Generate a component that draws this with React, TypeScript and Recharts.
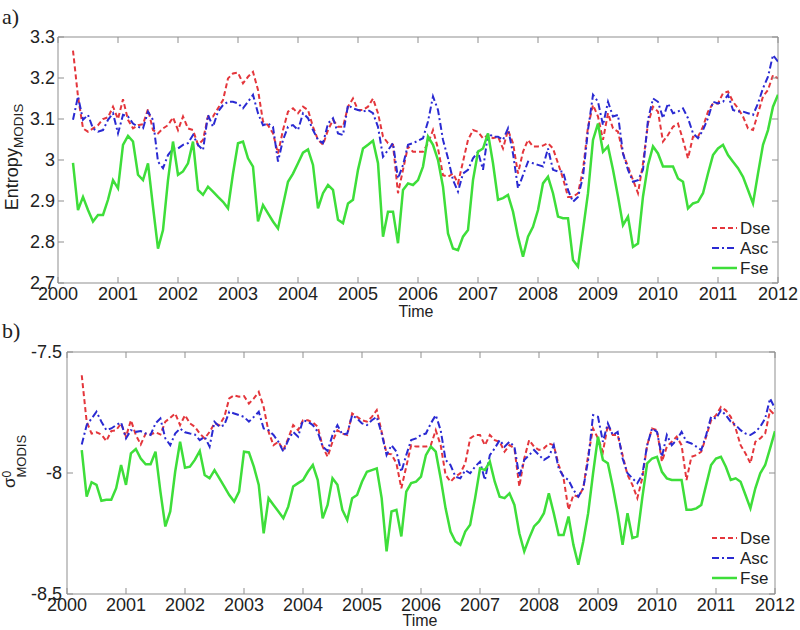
import { Legend, Line, LineChart, ReferenceLine, XAxis, YAxis } from "recharts";

// monthly series, first sample April 2000 (month index 3), last January 2012
const FIRST_MONTH = 3;
const yearTicks = [2000, 2001, 2002, 2003, 2004, 2005, 2006, 2007, 2008, 2009, 2010, 2011, 2012];
const entropyTicks = [2.7, 2.8, 2.9, 3, 3.1, 3.2, 3.3];
const sigmaTicks = [-8.5, -8, -7.5];

const entropyDse = [
  3.267, 3.155, 3.077, 3.069, 3.077, 3.085, 3.1, 3.104, 3.13, 3.1, 3.148, 3.098, 3.077, 3.085, 3.087, 3.124, 3.073,
  3.065, 3.077, 3.085, 3.104, 3.073, 3.106, 3.077, 3.073, 3.037, 3.049, 3.106, 3.106, 3.126, 3.146, 3.199, 3.211, 3.213,
  3.187, 3.203, 3.215, 3.171, 3.094, 3.085, 3.065, 3.016, 3.073, 3.118, 3.126, 3.114, 3.13, 3.122, 3.081, 3.049, 3.037,
  3.073, 3.098, 3.081, 3.081, 3.13, 3.15, 3.122, 3.122, 3.13, 3.15, 3.114, 3.057, 3.041, 3.037, 2.919, 2.976, 3.033,
  3.02, 3.02,
  3.02, 3.041, 3.073, 3.028, 2.963, 2.959, 2.967, 2.943, 2.996, 3.049, 3.073, 3.069, 3.053, 3.061, 3.053, 3.057, 3.028,
  3.073, 3.041, 2.967, 3.02, 3.049, 3.033, 3.033, 3.035, 3.041, 3.028, 2.992, 2.955, 2.91, 2.91, 2.919, 2.976, 3.081,
  3.134, 3.106,
  3.049, 3.114, 3.077, 3.069, 3.016, 2.984, 2.951, 2.919, 2.992, 3.089, 3.13, 3.118, 3.045, 3.061, 3.081, 3.089, 3.049,
  3.004, 3.057, 3.057, 3.081, 3.118, 3.138, 3.138, 3.163, 3.167, 3.142, 3.126, 3.106, 3.077, 3.073, 3.114, 3.155, 3.171,
  3.207, 3.199,
];
const entropyAsc = [
  3.098, 3.155, 3.098, 3.11, 3.077, 3.069, 3.073, 3.098, 3.114, 3.065, 3.11, 3.106, 3.089, 3.081, 3.077, 3.118, 3.098,
  2.996, 2.98, 3.012, 3.028, 3.028, 3.037, 3.041, 3.061, 3.037, 3.024, 3.11, 3.081, 3.118, 3.134, 3.142, 3.142, 3.138,
  3.126, 3.142, 3.159, 3.114, 3.085, 3.089, 3.081, 2.996, 3.049, 3.081, 3.085, 3.073, 3.114, 3.102, 3.073, 3.049, 3.041,
  3.089, 3.102, 3.065, 3.061, 3.134, 3.126, 3.122, 3.118, 3.122, 3.114, 3.081, 3.008, 3.024, 3.041, 2.955, 2.988, 3.037,
  3.041, 3.047,
  3.053, 3.094, 3.155, 3.122, 3.049, 3.004, 2.951, 2.923, 2.967, 2.976, 3.004, 3.02, 2.976, 3.065, 3.057, 3.057, 3.049,
  3.077, 3.016, 2.931, 2.963, 2.996, 2.992, 2.988, 2.984, 3.028, 2.976, 2.972, 2.972, 2.927, 2.898, 2.91, 2.959, 3.073,
  3.159, 3.142,
  3.085, 3.142, 3.106, 3.11, 3.016, 2.976, 2.947, 2.951, 2.976, 3.098, 3.15, 3.142, 3.102, 3.138, 3.114, 3.118, 3.126,
  3.102, 3.065, 3.053, 3.073, 3.102, 3.142, 3.138, 3.142, 3.159, 3.122, 3.118, 3.118, 3.114, 3.11, 3.138, 3.175, 3.203,
  3.256, 3.24,
];
const entropyFse = [
  2.993, 2.878, 2.91, 2.878, 2.85, 2.866, 2.866, 2.903, 2.951, 2.931, 3.037, 3.059, 3.045, 2.964, 2.951, 2.992, 2.886,
  2.784, 2.829, 2.951, 3.045, 2.964, 2.972, 2.992, 3.045, 2.927, 2.915, 2.935, 2.923, 2.91, 2.898, 2.882, 2.967, 3.041,
  3.045, 3.004, 2.984, 2.85, 2.89, 2.87, 2.85, 2.833, 2.89, 2.947, 2.967, 2.992, 3.018, 3.026, 2.988, 2.882, 2.919,
  2.939, 2.927, 2.854, 2.846, 2.894, 2.903, 2.976, 3.028, 3.037, 3.047, 2.992, 2.813, 2.874, 2.874, 2.797, 2.927, 2.943,
  2.939, 2.951,
  2.984, 3.057, 3.037, 3.0, 2.935, 2.821, 2.784, 2.78, 2.813, 2.829, 2.951, 3.02, 3.028, 3.065, 2.992, 2.903, 2.907,
  2.915, 2.874, 2.813, 2.764, 2.813, 2.837, 2.878, 2.943, 2.959, 2.919, 2.862, 2.858, 2.858, 2.756, 2.74, 2.829, 2.919,
  3.049, 3.089,
  3.02, 3.033, 2.976, 2.911, 2.841, 2.862, 2.788, 2.796, 2.911, 2.988, 3.033, 3.016, 2.984, 2.984, 2.984, 2.955, 2.947,
  2.882, 2.894, 2.898, 2.919, 2.967, 3.012, 3.028, 3.037, 3.012, 2.996, 2.98, 2.959, 2.927, 2.894, 2.967, 3.037, 3.073,
  3.13, 3.159,
];

const sigmaDse = [
  -7.596, -7.788, -7.837, -7.832, -7.841, -7.868, -7.827, -7.823, -7.795, -7.85, -7.782, -7.843, -7.882, -7.837, -7.841,
  -7.832, -7.841, -7.788, -7.772, -7.754, -7.802, -7.761, -7.795, -7.809, -7.837, -7.857, -7.83, -7.795, -7.802, -7.768,
  -7.692, -7.679, -7.685, -7.682,
  -7.713, -7.692, -7.665, -7.727, -7.83, -7.885, -7.871, -7.905, -7.857, -7.802, -7.823, -7.782, -7.782, -7.791, -7.809,
  -7.891, -7.933, -7.871, -7.823, -7.837, -7.843, -7.754, -7.768, -7.782, -7.788, -7.768, -7.74, -7.83, -7.919, -7.923,
  -7.96, -8.063, -7.974, -7.885, -7.891, -7.891,
  -7.891, -7.885, -7.823, -7.885, -8.008, -8.036, -8.015, -8.001, -7.96, -7.857, -7.843, -7.843, -7.885, -7.843, -7.864,
  -7.871, -7.912, -7.885, -7.898, -8.056, -7.94, -7.864, -7.891, -7.905, -7.898, -7.878, -7.885, -7.967, -8.022, -8.152,
  -8.091, -8.098, -8.063, -7.926, -7.816, -7.857,
  -7.912, -7.802, -7.843, -7.843, -7.926, -8.008, -8.049, -8.104, -8.022, -7.885, -7.816, -7.823, -7.953, -7.891, -7.871,
  -7.85, -7.885, -8.029, -7.933, -7.926, -7.912, -7.85, -7.782, -7.761, -7.727, -7.741, -7.768, -7.816, -7.885, -7.919,
  -7.96, -7.871, -7.857, -7.837, -7.741, -7.761,
];
const sigmaAsc = [
  -7.882, -7.802, -7.775, -7.747, -7.788, -7.823, -7.816, -7.802, -7.791, -7.857, -7.823, -7.83, -7.827, -7.837, -7.843,
  -7.795, -7.775, -7.857, -7.885, -7.837, -7.816, -7.832, -7.837, -7.841, -7.864, -7.85, -7.891, -7.788, -7.809, -7.802,
  -7.747, -7.754, -7.761, -7.768,
  -7.788, -7.768, -7.747, -7.816, -7.823, -7.843, -7.871, -7.912, -7.864, -7.83, -7.85, -7.782, -7.788, -7.802, -7.83,
  -7.891, -7.909, -7.843, -7.802, -7.841, -7.837, -7.761, -7.775, -7.795, -7.802, -7.782, -7.768, -7.837, -7.926, -7.885,
  -7.912, -7.995, -7.926, -7.864, -7.857, -7.843,
  -7.837, -7.795, -7.761, -7.823, -7.946, -7.967, -8.015, -8.022, -7.988, -8.001, -7.974, -7.953, -8.029, -7.926, -7.898,
  -7.864, -7.891, -7.871, -7.891, -8.015, -7.946, -7.926, -7.905, -7.926, -7.946, -7.933, -7.885, -7.981, -8.015, -8.029,
  -8.07, -8.098, -8.063, -7.946, -7.761, -7.768,
  -7.871, -7.795, -7.843, -7.83, -7.94, -8.001, -8.022, -8.042, -8.008, -7.885, -7.816, -7.83, -7.933, -7.843, -7.885,
  -7.864, -7.83, -7.871, -7.878, -7.891, -7.905, -7.843, -7.768, -7.775, -7.741, -7.761, -7.788, -7.802, -7.823, -7.837,
  -7.843, -7.83, -7.809, -7.775, -7.692, -7.734,
];
const sigmaFse = [
  -7.905, -8.098, -8.038, -8.049, -8.115, -8.111, -8.111, -8.063, -7.967, -8.049, -7.919, -7.901, -7.94, -7.964, -7.964,
  -7.912, -8.077, -8.221, -8.159, -7.995, -7.871, -7.978, -7.974, -7.946, -7.909, -8.008, -8.022, -7.988, -8.022, -8.056,
  -8.091, -8.118, -8.077, -7.912,
  -7.915, -7.974, -8.049, -8.249, -8.104, -8.132, -8.159, -8.187, -8.139, -8.056, -8.042, -8.029, -7.995, -7.967, -8.029,
  -8.187, -8.132, -8.022, -8.049, -8.152, -8.194, -8.104, -8.091, -8.036, -7.995, -7.988, -7.981, -8.104, -8.324, -8.159,
  -8.152, -8.262, -8.077, -8.042, -8.036, -8.015,
  -7.926, -7.891, -7.912, -8.022, -8.146, -8.242, -8.283, -8.297, -8.242, -8.214, -8.104, -7.981, -7.988, -7.953, -8.036,
  -8.098, -8.104, -8.084, -8.132, -8.249, -8.324, -8.269, -8.221, -8.2, -8.166, -8.084, -8.166, -8.256, -8.256, -8.18,
  -8.297, -8.379, -8.283, -8.166, -8.001, -7.85,
  -7.946, -7.96, -8.056, -8.166, -8.297, -8.166, -8.269, -8.262, -8.104, -7.96, -7.94, -7.933, -7.995, -8.022, -8.029,
  -8.029, -8.029, -8.152, -8.152, -8.146, -8.132, -8.049, -7.967, -7.94, -7.933, -7.974, -8.029, -8.022, -8.036, -8.091,
  -8.146, -8.063, -8.001, -7.967, -7.898, -7.827,
];

const AXIS = "#8f8f8f";
const TEXT = "#222";
const SANS = "'Liberation Sans', Arial, sans-serif";
const SERIF = "'Liberation Serif', 'Times New Roman', serif";

const SERIES = [
  { key: "dse", name: "Dse", color: "#e4363c", dash: "5 3", width: 2 },
  { key: "asc", name: "Asc", color: "#2a2ad2", dash: "7 3 2 3", width: 2 },
  { key: "fse", name: "Fse", color: "#3ede3a", dash: undefined, width: 2.5 },
];

const toRows = (dse: number[], asc: number[], fse: number[]) =>
  dse.map((v, i) => ({ t: 2000 + (i + FIRST_MONTH) / 12, dse: v, asc: asc[i], fse: fse[i] }));

const entropyRows = toRows(entropyDse, entropyAsc, entropyFse);
const sigmaRows = toRows(sigmaDse, sigmaAsc, sigmaFse);

type Box = { left: number; right: number; top: number; bottom: number };

const XTick = ({ x, payload, box }: any) => (
  <g>
    <line x1={x} x2={x} y1={box.bottom} y2={box.bottom - 6} stroke={AXIS} />
    <line x1={x} x2={x} y1={box.top} y2={box.top + 6} stroke={AXIS} />
    <text x={x} y={box.bottom + 17} textAnchor="middle" fontSize={18} fill={TEXT} fontFamily={SANS}>
      {payload.value}
    </text>
  </g>
);

const YTick = ({ y, payload, box, labelRight }: any) => (
  <g>
    <line x1={box.left} x2={box.left + 6} y1={y} y2={y} stroke={AXIS} />
    <line x1={box.right - 6} x2={box.right} y1={y} y2={y} stroke={AXIS} />
    <text x={labelRight} y={y + 6} textAnchor="end" fontSize={18} fill={TEXT} fontFamily={SANS}>
      {payload.value}
    </text>
  </g>
);

const LegendBox = () => (
  <svg width={80} height={62}>
    {SERIES.map((s, i) => (
      <g key={s.key}>
        <line x1={0} x2={25} y1={10 + i * 20} y2={10 + i * 20} stroke={s.color} strokeWidth={s.width} strokeDasharray={s.dash} />
        <text x={28} y={16 + i * 20} fontSize={17} fill={TEXT} fontFamily={SANS}>
          {s.name}
        </text>
      </g>
    ))}
  </svg>
);

type PanelProps = {
  rows: { t: number }[];
  top: number;
  height: number;
  box: Box;
  domain: [number, number];
  ticks: number[];
  labelRight: number;
  legendTop: number;
};

const Panel = ({ rows, top, height, box, domain, ticks, labelRight, legendTop }: PanelProps) => {
  const localBox = { ...box, top: box.top - top, bottom: box.bottom - top };
  return (
    <div style={{ position: "absolute", left: 0, top }}>
      <LineChart
        width={800}
        height={height}
        data={rows}
        margin={{ top: localBox.top, right: 800 - box.right, bottom: 0, left: 0 }}
      >
        <XAxis
          dataKey="t"
          type="number"
          domain={[2000, 2012]}
          ticks={yearTicks}
          allowDataOverflow
          height={height - localBox.bottom}
          axisLine={{ stroke: AXIS }}
          tickLine={false}
          tick={(p: any) => <XTick {...p} box={localBox} />}
        />
        <YAxis
          type="number"
          domain={domain}
          ticks={ticks}
          allowDataOverflow
          width={box.left}
          axisLine={{ stroke: AXIS }}
          tickLine={false}
          tick={(p: any) => <YTick {...p} box={localBox} labelRight={labelRight} />}
        />
        <ReferenceLine y={domain[1]} stroke={AXIS} />
        <ReferenceLine x={2012} stroke={AXIS} />
        {SERIES.map((s) => (
          <Line
            key={s.key}
            dataKey={s.key}
            name={s.name}
            type="linear"
            stroke={s.color}
            strokeWidth={s.width}
            strokeDasharray={s.dash}
            dot={false}
            isAnimationActive={false}
          />
        ))}
        <Legend
          layout="vertical"
          align="center"
          verticalAlign="middle"
          content={() => <LegendBox />}
          wrapperStyle={{ left: 712, top: legendTop, width: 80, height: 62 }}
        />
      </LineChart>
    </div>
  );
};

const App = () => {
  return (
    <div style={{ position: "absolute", left: 0, top: 0, width: 800, height: 630, background: "#fff" }}>
      <Panel
        rows={entropyRows}
        top={0}
        height={310}
        box={{ left: 58, right: 778, top: 37, bottom: 283 }}
        domain={[2.7, 3.3]}
        ticks={entropyTicks}
        labelRight={55}
        legendTop={218}
      />
      <Panel
        rows={sigmaRows}
        top={315}
        height={315}
        box={{ left: 67, right: 775, top: 352, bottom: 594 }}
        domain={[-8.5, -7.5]}
        ticks={sigmaTicks}
        labelRight={62}
        legendTop={213}
      />
      <svg width={800} height={630} style={{ position: "absolute", left: 0, top: 0, pointerEvents: "none" }}>
        <text x={2} y={24} fontSize={22} fontFamily={SERIF} fill={TEXT}>
          a)
        </text>
        <text x={2} y={338} fontSize={22} fontFamily={SERIF} fill={TEXT}>
          b)
        </text>
        <text transform="translate(18,157) rotate(-90)" textAnchor="middle" fontSize={18} fontFamily={SANS} fill={TEXT}>
          Entropy
          <tspan fontSize={13.5} dy={5}>
            MODIS
          </tspan>
        </text>
        <text transform="translate(15,488) rotate(-90)" fontSize={17} fontFamily={SANS} fill={TEXT}>
          σ
          <tspan fontSize={12} dy={-4}>
            0
          </tspan>
          <tspan fontSize={13} dx={-6.7} dy={15}>
            MODIS
          </tspan>
        </text>
        <text x={416} y={317} textAnchor="middle" fontSize={16} fontFamily={SANS} fill={TEXT}>
          Time
        </text>
        <text x={420} y={626} textAnchor="middle" fontSize={16} fontFamily={SANS} fill={TEXT}>
          Time
        </text>
      </svg>
    </div>
  );
};

export default App;
